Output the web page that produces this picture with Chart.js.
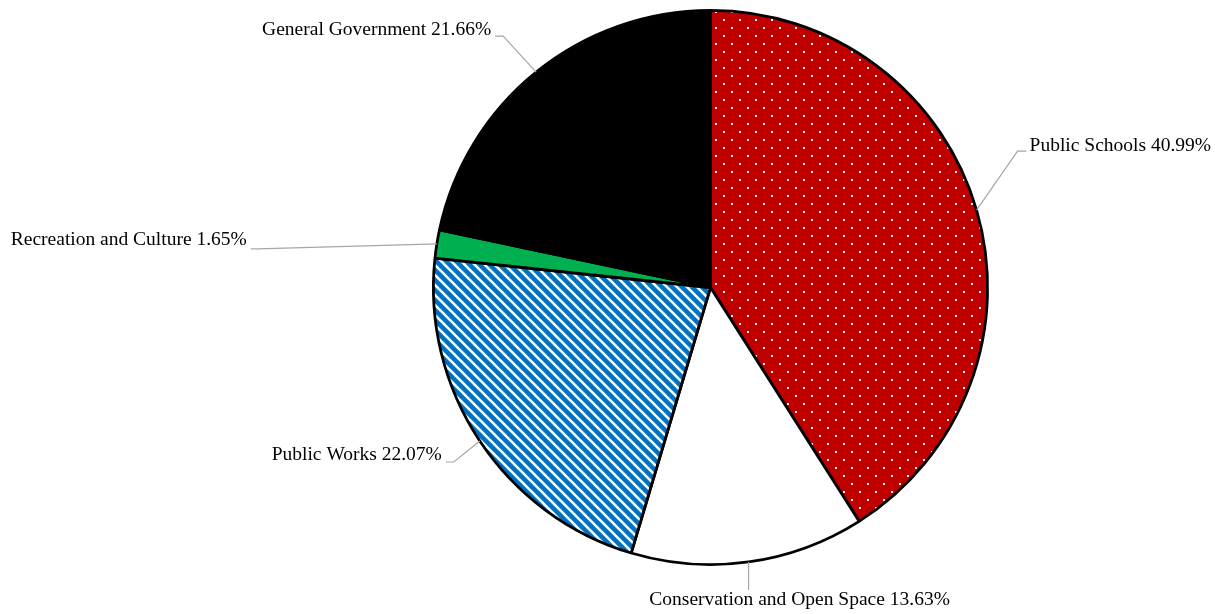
<!DOCTYPE html>
<html>
<head>
<meta charset="utf-8">
<title>Pie</title>
<script src="https://cdn.jsdelivr.net/npm/chart.js@4"></script>
<style>
  html, body { margin: 0; padding: 0; background: #fff; }
  #wrap { width: 1215px; height: 614px; }
</style>
</head>
<body>
<div id="wrap"><canvas id="chart" width="1215" height="614"></canvas></div>
<script>
// datos del grafico
const categories = ['Public Schools', 'Conservation and Open Space', 'Public Works', 'Recreation and Culture', 'General Government'];
const shares = [40.99, 13.63, 22.07, 1.65, 21.66];

// posicion de cada etiqueta respecto al borde del sector (codo de la linea, alineacion)
const labelLayout = [
  { elbow: [41, -59], tail: 9, align: 'left', textDy: 0 },
  { elbow: [0, 28], tail: 0, align: 'center', textDx: 51, textDy: 15 },
  { elbow: [-26, 21], tail: -8, align: 'right', textDy: -2 },
  { elbow: [-179, 5], tail: -7, align: 'right', textDy: -4 },
  { elbow: [-33, -36], tail: -8, align: 'right', textDy: -1 }
];

// rellenos con trama
function dotPattern() {
  var c = document.createElement('canvas');
  c.width = 16; c.height = 16;
  var g = c.getContext('2d');
  g.fillStyle = '#C00000';
  g.fillRect(0, 0, 16, 16);
  g.fillStyle = '#ffffff';
  g.fillRect(3, 3, 2, 2);
  g.fillRect(11, 11, 2, 2);
  return g.createPattern(c, 'repeat');
}

function stripePattern() {
  var c = document.createElement('canvas');
  c.width = 10; c.height = 10;
  var g = c.getContext('2d');
  g.fillStyle = '#0070C0';
  g.fillRect(0, 0, 10, 10);
  g.strokeStyle = '#ffffff';
  g.lineWidth = 2.6;
  [-10, 0, 10].forEach(function(k) {
    g.beginPath();
    g.moveTo(k - 1, -1);
    g.lineTo(k + 11, 11);
    g.stroke();
  });
  return g.createPattern(c, 'repeat');
}

// etiquetas con lineas guia
var leaderLabels = {
  id: 'leaderLabels',
  afterDatasetsDraw: function(chart) {
    var ctx = chart.ctx;
    var meta = chart.getDatasetMeta(0);
    ctx.save();
    ctx.font = '19.5px "Liberation Serif", "Times New Roman", serif';
    ctx.textBaseline = 'alphabetic';
    meta.data.forEach(function(arc, i) {
      var p = arc.getProps(['x', 'y', 'startAngle', 'endAngle', 'outerRadius'], true);
      var mid = (p.startAngle + p.endAngle) / 2;
      var ax = p.x + Math.cos(mid) * p.outerRadius;
      var ay = p.y + Math.sin(mid) * p.outerRadius;
      var lay = labelLayout[i];
      var ex = ax + lay.elbow[0];
      var ey = ay + lay.elbow[1];
      var tx = ex + lay.tail;

      ctx.strokeStyle = '#A6A6A6';
      ctx.lineWidth = 1.2;
      ctx.beginPath();
      ctx.moveTo(ax, ay);
      ctx.lineTo(ex, ey);
      ctx.lineTo(tx, ey);
      ctx.stroke();

      var text = categories[i] + ' ' + shares[i].toFixed(2) + '%';
      ctx.fillStyle = '#000000';
      ctx.textAlign = lay.align;
      var gap = lay.align === 'left' ? 3 : (lay.align === 'right' ? -4 : 0);
      ctx.fillText(text, tx + gap + (lay.textDx || 0), ey + (lay.textDy || 0));
    });
    ctx.restore();
  }
};

var chart = new Chart(document.getElementById('chart').getContext('2d'), {
  type: 'pie',
  data: {
    labels: categories,
    datasets: [{
      data: shares,
      backgroundColor: [dotPattern(), '#ffffff', stripePattern(), '#00B050', '#000000'],
      borderColor: '#000000',
      borderWidth: 2.8
    }]
  },
  options: {
    responsive: false,
    animation: false,
    events: [],
    layout: { padding: { top: 9, bottom: 48, left: 432, right: 226 } },
    plugins: {
      legend: { display: false },
      tooltip: { enabled: false }
    }
  },
  plugins: [leaderLabels]
});
</script>
</body>
</html>
